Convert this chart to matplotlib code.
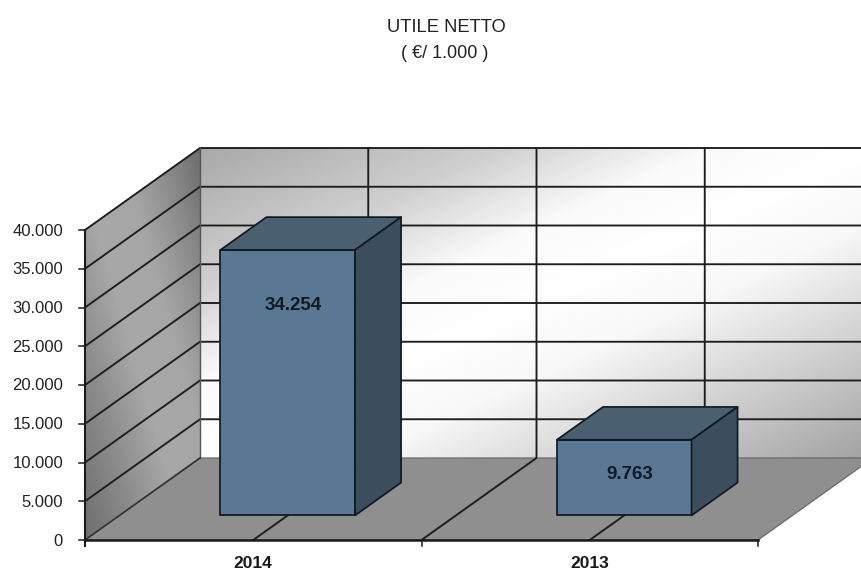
import numpy as np
import matplotlib
matplotlib.use('Agg')
import matplotlib.pyplot as plt
from matplotlib.colors import LinearSegmentedColormap
from matplotlib.patches import Polygon

plt.rcParams['font.family'] = ['Liberation Sans', 'DejaVu Sans']

################### Dati ###################
anni = ['2014', '2013']
utile = [34254, 9763]
etichette = ['34.254', '9.763']
tick_y = [0, 5000, 10000, 15000, 20000, 25000, 30000, 35000, 40000]
tick_lab = ['0', '5.000', '10.000', '15.000', '20.000', '25.000', '30.000', '35.000', '40.000']

################### Proiezione 3D -> pixel ###################
X0, Y0 = 85.0, 540.0
CAT_W = 336.5
DEPTH_X, DEPTH_Y = 115.0, 82.0
Y_SCALE = 7.75 / 1000
YMAX = tick_y[-1]


def proj(cat, val, depth=0.0):
    return (X0 + CAT_W * cat + DEPTH_X * depth, Y0 - val * Y_SCALE - DEPTH_Y * depth)


def grad_wall(ax, poly, tgrid, extent, cmap, z):
    # riempimento sfumato ritagliato sul poligono della parete
    clip = Polygon(poly, closed=True, transform=ax.transData, fc='none', ec='none')
    ax.add_patch(clip)
    im = ax.imshow(tgrid, extent=extent, cmap=cmap, vmin=0, vmax=1, origin='lower',
                   aspect='auto', zorder=z, interpolation='bilinear')
    im.set_clip_path(clip)


fig = plt.figure(figsize=(8.61, 5.73), dpi=100)
ax = fig.add_axes([0, 0, 1, 1])
ax.axis('off')

################### Parete di fondo ###################
back = [proj(0, 0, 1), proj(2, 0, 1), proj(2, YMAX, 1), proj(0, YMAX, 1)]
bx0, by0 = back[0]
bx1, by1 = back[2]
u, v = np.meshgrid(np.linspace(0, 1, 200), np.linspace(0, 1, 200))
# v=0 in basso -> v=1 in alto
t = (u + (1 - v)) / 2
cm_back = LinearSegmentedColormap.from_list('back', [(0, '#a9a9a9'), (0.22, '#cfcfcf'), (0.38, '#fbfbfb'),
                                                     (0.5, '#ffffff'), (0.62, '#f8f8f8'), (0.8, '#d0d0d0'),
                                                     (1, '#a2a2a2')])
grad_wall(ax, back, t, (bx0, bx1, by0, by1), cm_back, 1)

################### Parete sinistra ###################
left = [proj(0, 0, 0), proj(0, 0, 1), proj(0, YMAX, 1), proj(0, YMAX, 0)]
lx0, ly0 = left[0]
lx1, ly1 = left[2]
t = (u + v) / 2
cm_left = LinearSegmentedColormap.from_list('left', [(0, '#6f6f6f'), (0.25, '#8d8d8d'), (0.45, '#a8a8a8'),
                                                     (0.65, '#a6a6a6'), (0.85, '#888888'), (1, '#6c6c6c')])
grad_wall(ax, left, t, (lx0, lx1, ly0, ly1), cm_left, 1)

################### Pavimento ###################
floor = [proj(0, 0, 0), proj(2, 0, 0), proj(2, 0, 1), proj(0, 0, 1)]
ax.add_patch(Polygon(floor, closed=True, fc='#8f8f8f', ec='#6a6a6a', lw=0.9, zorder=2))

################### Griglia ###################
GRID = '#1c1c1c'
for val in tick_y[1:]:
    a, b, c = proj(0, val, 0), proj(0, val, 1), proj(2, val, 1)
    ax.plot([a[0], b[0], c[0]], [a[1], b[1], c[1]], color=GRID, lw=1.35, zorder=3, solid_joinstyle='miter')
for cat in [0.5, 1.0, 1.5]:
    a, b, c = proj(cat, 0, 0), proj(cat, 0, 1), proj(cat, YMAX, 1)
    ax.plot([a[0], b[0], c[0]], [a[1], b[1], c[1]], color=GRID, lw=1.35, zorder=3)
# spigoli di pareti e pavimento
e0, e1 = proj(0, 0, 1), proj(0, YMAX, 1)
ax.plot([e0[0], e1[0]], [e0[1], e1[1]], color='#555555', lw=1.0, zorder=3)
e0, e1 = proj(0, 0, 0), proj(0, 0, 1)
ax.plot([e0[0], e1[0]], [e0[1], e1[1]], color='#333333', lw=1.2, zorder=3)

################### Assi ###################
AX = '#1a1a1a'
a, b = proj(0, 0), proj(0, YMAX)
ax.plot([a[0], b[0]], [a[1] + 6, b[1]], color=AX, lw=1.5, zorder=4)
a, b = proj(0, 0), proj(2, 0)
ax.plot([a[0], b[0]], [a[1], b[1]], color=AX, lw=1.8, zorder=4)
for val, lab in zip(tick_y, tick_lab):
    px, py = proj(0, val)
    ax.plot([px - 6, px], [py, py], color=AX, lw=1.1, zorder=4)
    ax.text(px - 22, py + 1, lab, ha='right', va='center', fontsize=12, color='#222222')
for cat in [0, 1, 2]:
    px, py = proj(cat, 0)
    ax.plot([px, px], [py, py + 6], color=AX, lw=1.1, zorder=4)

################### Barre ###################
FRONT, TOP, SIDE, EDGE = '#5a7894', '#4a5f70', '#3c4d5e', '#101a24'
for i, (val, lab, anno) in enumerate(zip(utile, etichette, anni)):
    x0, x1 = i + 0.3, i + 0.7
    d0, d1 = 0.3, 0.7
    faces = [
        ([proj(x0, 0, d0), proj(x1, 0, d0), proj(x1, val, d0), proj(x0, val, d0)], FRONT),
        ([proj(x0, val, d0), proj(x1, val, d0), proj(x1, val, d1), proj(x0, val, d1)], TOP),
        ([proj(x1, 0, d0), proj(x1, 0, d1), proj(x1, val, d1), proj(x1, val, d0)], SIDE),
    ]
    for pts, col in faces:
        ax.add_patch(Polygon(pts, closed=True, fc=col, ec=EDGE, lw=1.25, zorder=5, joinstyle='round'))
    fx0, fy0 = proj(x0, val, d0)
    fx1, _ = proj(x1, val, d0)
    # etichetta sulla faccia frontale: in alto per la barra alta, centrata per quella bassa
    ly = fy0 + 56 if val > 20000 else fy0 + 35
    ax.text((fx0 + fx1) / 2 + 5.5, ly, lab, ha='center', va='center', fontsize=13.5,
            fontweight='bold', color='#121a24', zorder=6)
    cx, cy = proj(i + 0.5, 0)
    ax.text(cx, cy + 23.5, anno, ha='center', va='center', fontsize=12.5, fontweight='bold', color='#1a1a1a')

################### Titolo ###################
ax.text(446, 28, 'UTILE NETTO', ha='center', va='center', fontsize=13.2, color='#222222')
ax.text(445, 53, '( €/ 1.000 )', ha='center', va='center', fontsize=13, color='#222222')

ax.set_xlim(0, 861)
ax.set_ylim(573, 0)
fig.savefig('out.png', dpi=100, facecolor='white')
